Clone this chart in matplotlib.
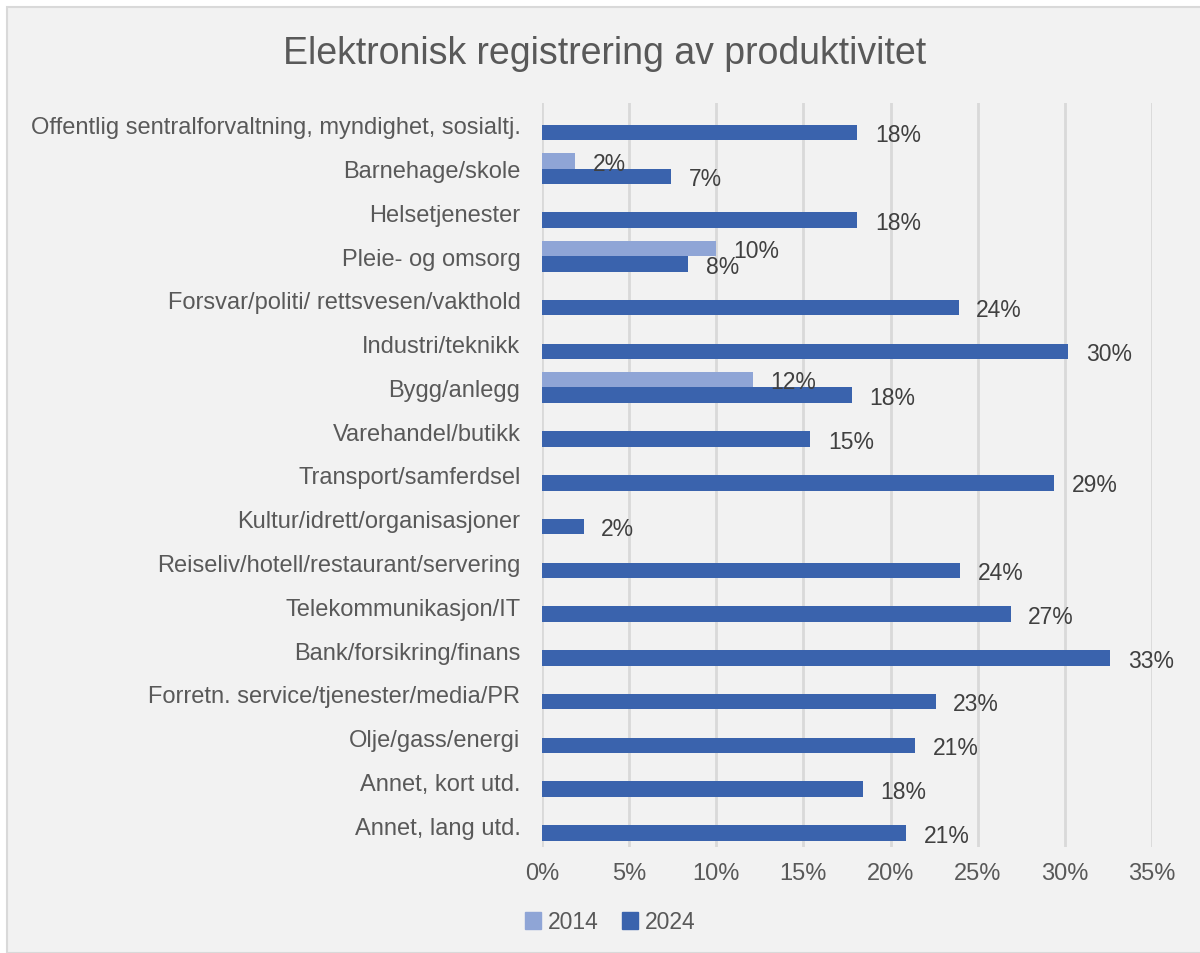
import numpy as np
import matplotlib.pyplot as plt
from matplotlib.patches import Rectangle

plt.rcParams['font.family'] = ['Liberation Sans', 'DejaVu Sans']

categories = ['Offentlig sentralforvaltning, myndighet, sosialtj.',
              'Barnehage/skole',
              'Helsetjenester',
              'Pleie- og omsorg',
              'Forsvar/politi/ rettsvesen/vakthold',
              'Industri/teknikk',
              'Bygg/anlegg',
              'Varehandel/butikk',
              'Transport/samferdsel',
              'Kultur/idrett/organisasjoner',
              'Reiseliv/hotell/restaurant/servering',
              'Telekommunikasjon/IT',
              'Bank/forsikring/finans',
              'Forretn. service/tjenester/media/PR',
              'Olje/gass/energi',
              'Annet, kort utd.',
              'Annet, lang utd.']

# share of respondents, in percent (None = no data for that year)
v2014 = [None, 1.9, None, 10.0, None, None, 12.1, None, None, None,
         None, None, None, None, None, None, None]
v2024 = [18.1, 7.4, 18.1, 8.4, 23.9, 30.2, 17.8, 15.4, 29.4, 2.4,
         24.0, 26.9, 32.6, 22.6, 21.4, 18.4, 20.9]

xticks = [0, 5, 10, 15, 20, 25, 30, 35]

c14 = '#8FA5D6'
c24 = '#3A63AD'
txt = '#595959'

W, H = 1200, 954
fig = plt.figure(figsize=(W / 100, H / 100), dpi=100, facecolor='white')
fig.patches.append(Rectangle((7 / W, 0), 1, 1 - 8 / H, transform=fig.transFigure,
                             facecolor='#F2F2F2', edgecolor='#D9D9D9', lw=1.5, zorder=-5))

ax = fig.add_axes([542 / W, 1 - 848 / H, 610 / W, 744 / H])
ax.set_facecolor('none')

n = len(categories)
y = np.arange(n)
bh = 0.355

for i in range(n):
    if v2014[i] is not None:
        ax.barh(y[i] - bh / 2, v2014[i], height=bh, color=c14, zorder=3)
        ax.text(v2014[i] + 1.0, y[i] - bh / 2 + 0.05, '%d%%' % round(v2014[i]),
                va='center', ha='left', fontsize=16.5, color='#404040', zorder=4)
    ax.barh(y[i] + bh / 2, v2024[i], height=bh, color=c24, zorder=3)
    ax.text(v2024[i] + 1.0, y[i] + bh / 2 + 0.05, '%d%%' % round(v2024[i]),
            va='center', ha='left', fontsize=16.5, color='#404040', zorder=4)

ax.set_ylim(n - 0.5, -0.5)
ax.set_xlim(0, 35)
ax.set_yticks(y)
ax.set_yticklabels(categories, fontsize=17, color=txt)
ax.set_xticks(xticks)
ax.set_xticklabels(['%d%%' % t for t in xticks], fontsize=17, color=txt)
ax.tick_params(length=0, pad=15.5, axis='y')
ax.tick_params(length=0, pad=11, axis='x')
ax.grid(axis='x', color='#D9D9D9', lw=2, zorder=0)
for s in ax.spines.values():
    s.set_visible(False)

fig.text(605 / W, 1 - 54 / H, 'Elektronisk registrering av produktivitet',
         ha='center', va='center', fontsize=27, color=txt)

handles = [Rectangle((0, 0), 1, 1, color=c14), Rectangle((0, 0), 1, 1, color=c24)]
fig.legend(handles, ['2014', '2024'], loc='center', bbox_to_anchor=(610 / W, 1 - 923 / H),
           ncol=2, frameon=False, fontsize=16.5, labelcolor=txt,
           handlelength=0.7, handleheight=0.7, handletextpad=0.3, columnspacing=1.0)

fig.savefig('out.png', dpi=100, facecolor='white')
